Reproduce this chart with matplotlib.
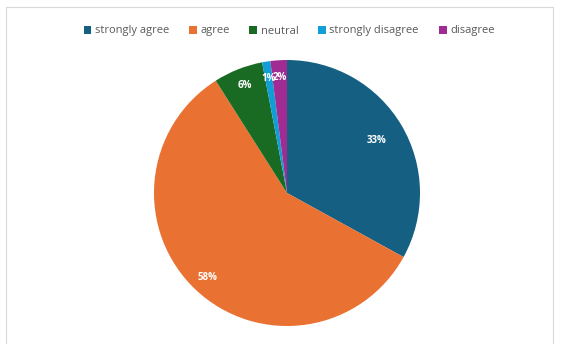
import numpy as np
import matplotlib.pyplot as plt
from matplotlib.patches import Rectangle

labels = ["strongly agree", "agree", "neutral", "strongly disagree", "disagree"]
shares = [33, 58, 6, 1, 2]
colors = ["#156082", "#E97132", "#196B24", "#0F9ED5", "#A02B93"]
# radial position of each percentage label (fraction of radius)
label_r = [0.78, 0.87, 0.87, 0.87, 0.87]

plt.rcParams['font.family'] = ['Open Sans', 'DejaVu Sans']

fig = plt.figure(figsize=(5.61, 3.44), dpi=100)
W, H = 561, 344

# light chart-area frame
fig.patches.append(Rectangle((6 / W, -0.05), 547 / W, 1.05 - 7 / H,
                             transform=fig.transFigure, fill=False,
                             edgecolor="#d9d9d9", linewidth=0.8))

ax = fig.add_axes([154 / W, 18 / H, 266 / W, 266 / H])
wedges, texts, autotexts = ax.pie(
    shares, colors=colors, startangle=90, counterclock=False,
    autopct=lambda p: f"{p:.0f}%", pctdistance=0.85,
    textprops=dict(color="white", fontsize=7, fontweight="bold"))
ax.set_xlim(-1, 1)
ax.set_ylim(-1, 1)

for w, t, r in zip(wedges, autotexts, label_r):
    mid = np.deg2rad((w.theta1 + w.theta2) / 2)
    t.set_position((r * np.cos(mid), r * np.sin(mid)))

fig.legend(wedges, labels, loc="center", bbox_to_anchor=(289 / W, 1 - 31 / H),
           ncol=5, frameon=False, fontsize=8, labelcolor="#595959",
           handlelength=0.7, handleheight=0.7, handletextpad=0.3,
           columnspacing=1.8)

fig.savefig("out.png", dpi=100)
